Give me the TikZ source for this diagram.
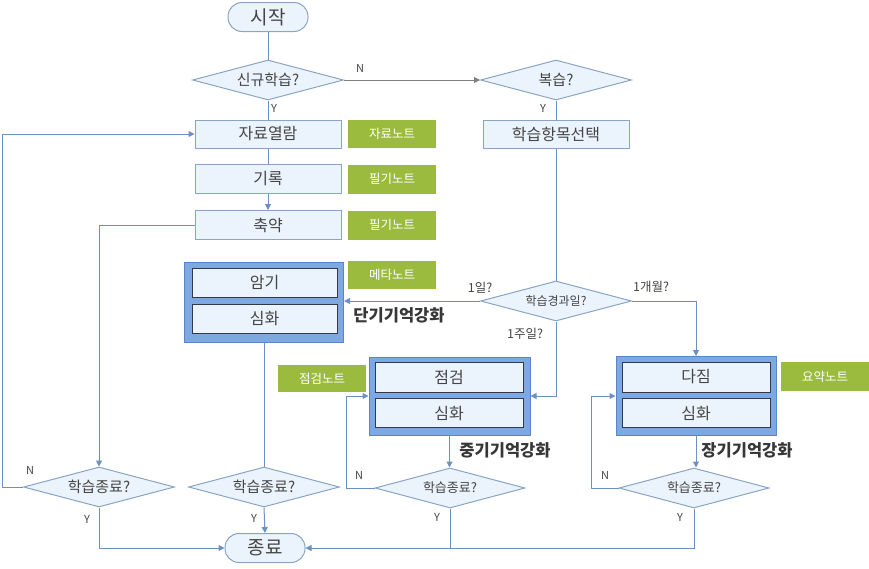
\documentclass[tikz,border=0pt]{standalone}
\usepackage{fontspec}
\setmainfont{Noto Sans CJK KR}
\usetikzlibrary{shapes.geometric,arrows.meta}
\definecolor{boxfill}{HTML}{EBF3FC}
\definecolor{boxline}{HTML}{8AA4C6}
\definecolor{conn}{HTML}{6E8FC4}
\definecolor{grpfill}{HTML}{7EA8E2}
\definecolor{grpline}{HTML}{5A86C6}
\definecolor{innerline}{HTML}{2F3B4C}
\definecolor{notegreen}{HTML}{9BBB3F}
\definecolor{txt}{HTML}{454545}
\definecolor{grayarrow}{HTML}{808080}
\tikzset{
  procbox/.style={draw=boxline, fill=boxfill, line width=1pt, inner sep=0pt,
    minimum width=146pt, minimum height=28pt, text=txt, font=\fontsize{16}{17}\selectfont},
  innerbox/.style={draw=innerline, fill=boxfill, line width=0.8pt, inner sep=0pt,
    minimum width=146pt, minimum height=29pt, text=txt, font=\fontsize{16}{17}\selectfont},
  grpbox/.style={draw=grpline, fill=grpfill, line width=1pt, inner sep=0pt,
    minimum width=160pt, minimum height=79pt},
  notebox/.style={fill=notegreen, inner sep=0pt, minimum width=88pt,
    minimum height=28pt, text=white, font=\fontsize{12.5}{13}\selectfont},
  decision/.style={diamond, aspect=3.75, draw=boxline, fill=boxfill, line width=1pt,
    inner sep=0pt, minimum width=151pt, minimum height=40pt, text=txt,
    font=\fontsize{15}{16}\selectfont},
  smalldecision/.style={decision, font=\fontsize{13}{14}\selectfont},
  terminal/.style={draw=boxline, fill=boxfill, line width=1pt, rounded corners=14pt,
    inner sep=0pt, minimum width=80pt, minimum height=29pt, text=txt,
    font=\fontsize{19}{20}\selectfont},
  lbl/.style={text=txt, inner sep=0pt, font=\fontsize{11}{12}\selectfont},
  edgelbl/.style={lbl, font=\fontsize{12.5}{13}\selectfont},
  strong/.style={text=txt!80!black, inner sep=0pt, font=\fontsize{16.5}{17}\selectfont\bfseries},
  line/.style={draw=conn, line width=1pt},
  arr/.style={line, -{Triangle[length=6pt,width=6pt]}},
  grayarr/.style={draw=grayarrow, line width=1pt, -{Triangle[length=6pt,width=6pt]}}
}
\begin{document}
\begin{tikzpicture}[x=1pt,y=-1pt]
\useasboundingbox (0,0) rectangle (869,568);
% top column
\node[terminal] (start) at (268,17) {시작};
\node[decision] (q1) at (268,80) {신규학습?};
\node[decision] (q2) at (556,80) {복습?};
\node[procbox] (b1) at (268,134) {자료열람};
\node[notebox] (g1) at (392,134) {자료노트};
\node[procbox] (sel) at (556,134) {학습항목선택};
\node[procbox, minimum height=29pt] (b2) at (268,179) {기록};
\node[notebox, minimum height=29pt] (g2) at (392,179) {필기노트};
\node[procbox, minimum height=29pt] (b3) at (268,225) {축약};
\node[notebox, minimum height=29pt] (g3) at (392,225) {필기노트};
\node[notebox] (g4) at (392,275) {메타노트};
% short-term group
\node[grpbox, minimum width=159pt, minimum height=80pt] (grpS) at (264,302) {};
\node[innerbox, minimum width=145pt] (s1) at (264.5,282.5) {암기};
\node[innerbox, minimum width=145pt] (s2) at (264.5,319) {심화};
\node[strong] (lS) at (399,315) {단기기억강화};
% elapsed decision
\node[decision, font=\fontsize{12}{13}\selectfont] (q3) at (556,301) {학습경과일?};
\node[edgelbl] (l1d) at (480,288) {1일?};
\node[edgelbl] (l1m) at (651,287) {1개월?};
\node[edgelbl] (l1w) at (525,334) {1주일?};
% mid-term group
\node[grpbox, minimum width=161pt, minimum height=78pt] (grpM) at (449.5,396) {};
\node[innerbox, minimum width=148pt, minimum height=30pt] (m1) at (449,377) {점검};
\node[innerbox, minimum width=148pt] (m2) at (449,413) {심화};
\node[notebox, minimum height=27pt] (g5) at (322,378.5) {점검노트};
\node[strong] (lM) at (505,450) {중기기억강화};
% long-term group
\node[grpbox] (grpL) at (696,396) {};
\node[innerbox, minimum width=148pt, minimum height=30pt] (r1) at (696,377) {다짐};
\node[innerbox, minimum width=148pt] (r2) at (696,413) {심화};
\node[notebox, minimum height=29pt] (g6) at (825,376.5) {요약노트};
\node[strong] (lL) at (747,450) {장기기억강화};
% end decisions
\node[decision] (d1) at (99,487) {학습종료?};
\node[decision] (d2) at (264,487) {학습종료?};
\node[smalldecision, minimum width=150pt] (d3) at (450,488) {학습종료?};
\node[smalldecision, minimum width=150pt] (d4) at (694,488) {학습종료?};
\node[terminal] (end) at (265,548) {종료};
% labels
\node[lbl] (nq1) at (360,68) {N};
\node[lbl] (yq1) at (274,108) {Y};
\node[lbl] (yq2) at (543,108) {Y};
\node[lbl] (nd1) at (30,470) {N};
\node[lbl] (yd1) at (87,519) {Y};
\node[lbl] (yd2) at (254,518) {Y};
\node[lbl] (nd3) at (359,475) {N};
\node[lbl] (yd3) at (437,517) {Y};
\node[lbl] (nd4) at (605,475) {N};
\node[lbl] (yd4) at (680,517) {Y};
% coordinates for loops
\coordinate (loopA) at (2,487);
\coordinate (loopM) at (346,488);
\coordinate (loopL) at (591,488);
% connectors
\draw[line] (start) -- (q1);
\draw[grayarr] (q1.east) -- (q2.west);
\draw[line] (q1) -- (b1);
\draw[line] (b1) -- (b2);
\draw[arr] (b2) -- (b3);
\draw[arr] (b3.west) -| (d1.north);
\draw[arr] (d1.west) -- (loopA) |- (b1.west);
\draw[arr] (d1.south) |- (end.west);
\draw[line] (grpS.south) -- (d2.north);
\draw[arr] (d2.south) -- (end.north);
\draw[line] (q2) -- (sel);
\draw[line] (sel) -- (q3);
\draw[arr] (q3.west) -- (q3.west -| grpS.east);
\draw[arr] (q3.south) |- (grpM.east);
\draw[arr] (q3.east) -| (grpL.north);
\draw[arr] (grpM.south) -- (grpM.south |- d3.north);
\draw[arr] (grpL.south) -- (grpL.south |- d4.north);
\draw[arr] (d3.west) -- (loopM) |- (grpM.west);
\draw[arr] (d4.west) -- (loopL) |- (grpL.west);
\draw[line] (d3.south) -- (d3.south |- end.east);
\draw[arr] (d4.south) |- (end.east);
\end{tikzpicture}
\end{document}
